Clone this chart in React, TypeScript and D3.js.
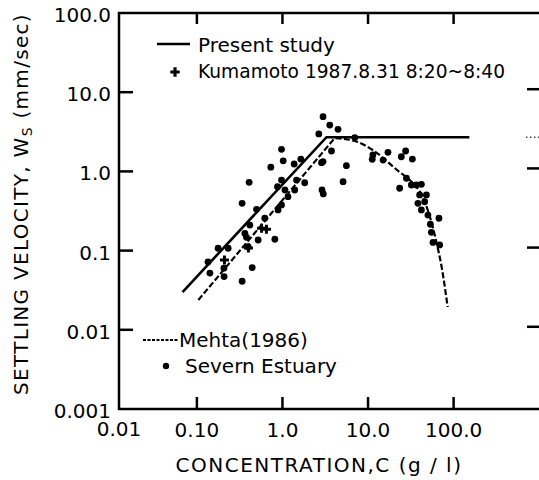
import { useEffect, useRef } from "react";
import * as d3 from "d3";

// Severn Estuary observations: concentration C (g/l) and settling velocity Ws (mm/sec)
const severnC = [
  0.177, 0.135, 0.232, 0.142, 0.208, 0.207, 0.338, 0.443, 0.38, 0.975, 1.02,
  1.37, 1.64, 0.731, 2.86, 0.408, 0.975, 0.875, 1.07, 1.46, 1.82, 1.39, 1.16,
  2.9, 0.338, 0.498, 0.975, 0.889, 0.622, 0.416, 0.364, 0.52, 0.815, 0.397,
  2.98, 3.57, 4.46, 2.66, 7.0, 3.74, 2.98, 5.59, 11.2, 5.11, 3.0, 11.4, 15.0,
  17.1, 24.5, 27.5, 33.0, 28.1, 23.4, 32.1, 36.7, 42.0, 40.1, 48.1, 38.3, 45.9,
  42.0, 50.1, 67.4, 53.5, 55.0, 57.4, 68.7,
];
const severnWs = [
  0.107, 0.072, 0.107, 0.052, 0.047, 0.06, 0.041, 0.061, 0.147, 1.9, 1.36,
  1.24, 1.43, 1.13, 1.29, 0.728, 0.778, 0.641, 0.582, 0.778, 0.719, 0.582,
  0.48, 0.582, 0.395, 0.332, 0.377, 0.326, 0.256, 0.21, 0.165, 0.136, 0.139,
  0.112, 4.91, 3.85, 3.4, 2.97, 2.67, 1.81, 1.33, 1.18, 1.42, 0.741, 0.52, 1.61,
  1.39, 1.74, 1.53, 1.81, 1.43, 0.819, 0.613, 0.673, 0.673, 0.687, 0.504, 0.504,
  0.395, 0.414, 0.326, 0.281, 0.256, 0.215, 0.17, 0.127, 0.118,
];

// Kumamoto 1987.8.31 observations
const kumamotoC = [0.21, 0.4, 0.57, 0.65];
const kumamotoWs = [0.076, 0.108, 0.191, 0.186];

// Present study (solid line)
const presentC = [0.068, 3.27, 153];
const presentWs = [0.03, 2.7, 2.7];
const presentTailC = [700, 1050];
const presentTailWs = [2.7, 2.7];

// Mehta (1986): straight rise, then a curved fall
const mehtaRiseC = [0.104, 4.08];
const mehtaRiseWs = [0.0238, 2.64];
const mehtaFallC = [4.08, 7.0, 11.35, 23.4, 30.7, 43.5, 55.4, 63.3, 72.5, 85.2];
const mehtaFallWs = [2.64, 2.42, 1.86, 0.98, 0.778, 0.475, 0.223, 0.125, 0.062, 0.0194];

const xTickValues = [0.1, 1, 10, 100];
const xTickLabels = ["0.10", "1.0", "10.0", "100.0"];
const yTickValues = [0.001, 0.01, 0.1, 1, 10, 100];
const yTickLabels = ["0.001", "0.01", "0.1", "1.0", "10.0", "100.0"];

export default function App() {
  const svgRef = useRef<SVGSVGElement>(null);

  useEffect(() => {
    if (!svgRef.current) return;
    d3.select(svgRef.current).selectAll("*").remove();

    const W = 539;
    const H = 480;
    const left = 119;
    const right = 541;
    const top = 13;
    const bottom = 409;

    const svg = d3
      .select(svgRef.current)
      .attr("width", W)
      .attr("height", H)
      .style("font-family", "DejaVu Sans");

    svg.append("rect").attr("width", W).attr("height", H).attr("fill", "#fff");

    // the frame starts a bit to the right of 0.01 in the original figure
    const x = d3.scaleLog().domain([0.0123, 1050]).range([left, right]);
    const y = d3.scaleLog().domain([0.001, 100]).range([bottom, top]);

    const toPts = (cs: number[], ws: number[]) =>
      cs.map((c, i) => [x(c), y(ws[i])] as [number, number]);

    // Frame
    svg
      .append("path")
      .attr("d", `M${right},${top}H${left}V${bottom}H${right}`)
      .attr("fill", "none")
      .attr("stroke", "#000")
      .attr("stroke-width", 2.5);

    // Inward ticks
    const ticks = svg.append("g").attr("stroke", "#000").attr("stroke-width", 2.5);
    xTickValues.forEach((v) => {
      ticks.append("line").attr("x1", x(v)).attr("x2", x(v)).attr("y1", top).attr("y2", top + 11);
      ticks.append("line").attr("x1", x(v)).attr("x2", x(v)).attr("y1", bottom).attr("y2", bottom - 12);
    });
    yTickValues.slice(1, 5).forEach((v) => {
      ticks.append("line").attr("x1", left).attr("x2", left + 14).attr("y1", y(v)).attr("y2", y(v));
      ticks.append("line").attr("x1", right - 14).attr("x2", right).attr("y1", y(v) - 3).attr("y2", y(v) - 3);
    });

    // Tick labels
    yTickValues.forEach((v, i) => {
      svg
        .append("text")
        .attr("x", 111)
        .attr("y", y(v) + 9)
        .attr("text-anchor", "end")
        .style("font-size", "20px")
        .text(yTickLabels[i]);
    });
    svg
      .append("text")
      .attr("x", left)
      .attr("y", 436)
      .attr("text-anchor", "middle")
      .style("font-size", "20px")
      .text("0.01");
    xTickValues.forEach((v, i) => {
      svg
        .append("text")
        .attr("x", x(v))
        .attr("y", 437)
        .attr("text-anchor", "middle")
        .style("font-size", "20px")
        .text(xTickLabels[i]);
    });

    // Axis titles
    svg
      .append("text")
      .attr("x", 319)
      .attr("y", 472)
      .attr("text-anchor", "middle")
      .style("font-size", "20px")
      .style("letter-spacing", "1.5px")
      .text("CONCENTRATION,C (g / l)");

    const yTitle = svg
      .append("text")
      .attr("transform", "translate(28,204) rotate(-90)")
      .attr("text-anchor", "middle")
      .style("font-size", "20px")
      .style("letter-spacing", "1.3px");
    yTitle.append("tspan").text("SETTLING VELOCITY,  W");
    yTitle.append("tspan").attr("dy", 4).style("font-size", "14px").text("S");
    yTitle.append("tspan").attr("dy", -4).text("  (mm/sec)");

    // Present study
    svg
      .append("path")
      .attr("d", d3.line()(toPts(presentC, presentWs)))
      .attr("fill", "none")
      .attr("stroke", "#000")
      .attr("stroke-width", 2.6);

    svg
      .append("path")
      .attr("d", d3.line()(toPts(presentTailC, presentTailWs)))
      .attr("fill", "none")
      .attr("stroke", "#444")
      .attr("stroke-width", 1.5)
      .attr("stroke-dasharray", "1.5,2.5");

    // Mehta (1986)
    const mehtaPath =
      (d3.line()(toPts(mehtaRiseC, mehtaRiseWs)) ?? "") +
      (d3.line().curve(d3.curveMonotoneX)(toPts(mehtaFallC, mehtaFallWs)) ?? "").replace(/^M/, "L");
    svg
      .append("path")
      .attr("d", mehtaPath)
      .attr("fill", "none")
      .attr("stroke", "#000")
      .attr("stroke-width", 2.2)
      .attr("stroke-dasharray", "6,2.5");

    // Severn Estuary dots
    svg
      .append("g")
      .selectAll("circle")
      .data(severnC)
      .join("circle")
      .attr("cx", (d) => x(d))
      .attr("cy", (_, i) => y(severnWs[i]))
      .attr("r", 3.4)
      .attr("fill", "#000");

    // Kumamoto crosses
    const cross = d3.symbol().type(d3.symbolCross).size(45);
    svg
      .append("g")
      .selectAll("path")
      .data(kumamotoC)
      .join("path")
      .attr("d", cross)
      .attr("transform", (d, i) => `translate(${x(d)},${y(kumamotoWs[i])})`)
      .attr("fill", "#000");

    // Upper legend
    svg
      .append("line")
      .attr("x1", 157)
      .attr("x2", 190)
      .attr("y1", 44)
      .attr("y2", 44)
      .attr("stroke", "#000")
      .attr("stroke-width", 2.6);
    svg
      .append("text")
      .attr("x", 198)
      .attr("y", 52)
      .style("font-size", "20px")
      .text("Present study");
    svg
      .append("path")
      .attr("d", d3.symbol().type(d3.symbolCross).size(50)())
      .attr("transform", "translate(175,72)")
      .attr("fill", "#000");
    svg
      .append("text")
      .attr("x", 198)
      .attr("y", 78)
      .attr("textLength", 307)
      .attr("lengthAdjust", "spacingAndGlyphs")
      .style("font-size", "20px")
      .text("Kumamoto 1987.8.31  8:20~8:40");

    // Lower legend
    svg
      .append("line")
      .attr("x1", 143)
      .attr("x2", 178)
      .attr("y1", 340)
      .attr("y2", 340)
      .attr("stroke", "#000")
      .attr("stroke-width", 2)
      .attr("stroke-dasharray", "3,1.5");
    svg
      .append("text")
      .attr("x", 179)
      .attr("y", 347)
      .style("font-size", "20px")
      .text("Mehta(1986)");
    svg.append("circle").attr("cx", 166).attr("cy", 366).attr("r", 3.2).attr("fill", "#000");
    svg
      .append("text")
      .attr("x", 185)
      .attr("y", 373)
      .style("font-size", "20px")
      .text("Severn Estuary");
  }, []);

  return <svg ref={svgRef} style={{ position: "absolute", left: 0, top: 0 }}></svg>;
}
